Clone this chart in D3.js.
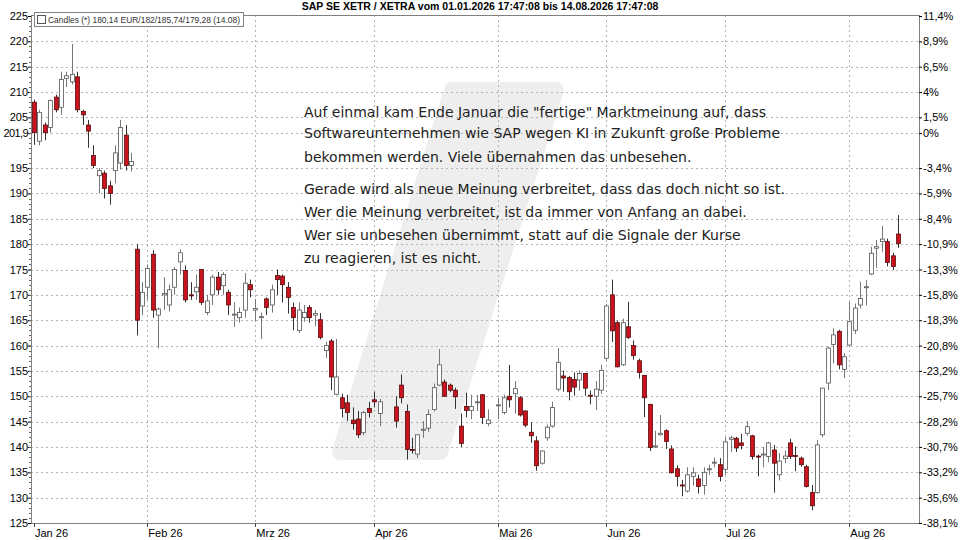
<!DOCTYPE html>
<html>
<head>
<meta charset="utf-8">
<script src="https://d3js.org/d3.v7.min.js"></script>
<style>
  body { margin: 0; background: #fff; }
  svg { display: block; }
</style>
</head>
<body>
<div id="chart"></div>
<script>
// trading days are all weekdays from Jan 2 to Aug 14 except these
const holidays = ["2026-04-03", "2026-04-06", "2026-05-01"];
const firstDay = "2026-01-02", lastDay = "2026-08-14";

const opens = [
  208, 200.3, 203.5, 203, 209, 207, 212.7, 212, 213, 206.2, 203.5, 197.5, 193.5, 194, 191.5, 194.5, 196, 201.5, 195.5, 179, 167.8,
  171.5, 178, 166, 170, 168, 171.5, 176.5, 174.8, 170, 170.6, 175, 166.5, 170, 173.5, 171.8, 170.5, 166, 165.5, 167, 172,
  167, 165.5, 169.2, 168, 173.8, 173.7, 171.5, 167.5, 163, 165.5, 167.5, 166, 165.1, 159, 160.9, 150.4, 149.7, 148.7, 145.3, 145.5, 142.8, 147.6,
  149.3, 146.6, 147.9, 152.2, 147, 139.5, 138.6, 143.3, 143.7, 147.4, 152.2, 152.8, 152.2, 151.2, 144.1, 148, 147.2, 148.7, 150.3, 144.6,
  148.1, 146.8, 150, 150.5, 149.7, 147.1, 142.9, 141.2, 136.8, 141.8, 144.1, 151.4, 154, 153.7, 153.3, 153.2, 154.5, 150.2, 150, 151.2,
  157.5, 170, 164.5, 156.2, 163.7, 160, 157, 154.1, 148.4, 140.1, 142.4, 143.2, 139.6, 135.7, 132.5, 131.3, 134.2, 133.7, 132.4, 135.5, 136.8, 136.5,
  135.6, 141.5, 141.7, 140.8, 142.7, 142.2, 138.2, 138.5, 138.1, 139.4, 134.5, 137.7, 140.8, 138.3, 137.8, 136.1, 131, 131, 142.4, 152.6, 160.2, 162.8, 155.3,
  160.1, 163, 168, 171.4, 174.1, 179.2, 180.5, 180.5, 177.7, 182
];
const highs = [
  208.5, 206.5, 204, 208.5, 209.5, 214, 214, 219.5, 214, 206.5, 204.5, 199.5, 195, 194.5, 192.5, 199.5, 204.5, 203.5, 198, 180, 172.5,
  176, 178.8, 167.5, 173.5, 172, 175.5, 179, 175.8, 172.5, 174, 175, 170, 174, 174.5, 174.5, 171, 168.5, 167.5, 174.3, 173,
  169.2, 166.5, 169.5, 172, 175, 174, 172.5, 168.5, 168.5, 168, 168, 167, 166.4, 160.8, 161.3, 161.3, 150.5, 150.3, 147.8, 147.1, 147.1, 148.9,
  150.9, 149.5, 150, 154.3, 148.4, 141.8, 142.4, 145.1, 147.4, 152.5, 159.3, 153.3, 152.5, 151.7, 146.6, 150.7, 150.3, 150.3, 150.4, 147.4,
  149.7, 150.3, 156.2, 153, 150, 147.2, 144.9, 142.1, 139.3, 144.4, 148.9, 159.5, 155.1, 154, 154.7, 155.1, 154.6, 151.1, 153, 156.2,
  168.2, 173, 164.9, 165.3, 168.6, 161, 157.4, 154.2, 148.5, 143.2, 146.3, 143.5, 140.3, 136.4, 133.5, 136, 136, 134.5, 136, 136.5, 137.9, 137.8,
  141.9, 142.2, 142, 142.6, 145.1, 142.4, 138.5, 140, 141, 140.4, 138.8, 139.3, 141.6, 140.1, 138.1, 136.5, 132.5, 141.4, 151.6, 159.8, 163.4, 163.1, 158.5,
  168.6, 168.3, 172.6, 172.9, 179.5, 180.8, 183.6, 181.1, 178.3, 185.74
];
const lows = [
  199.6, 199.5, 200.5, 202, 206, 205.5, 211, 211.5, 206, 203.5, 199, 195, 190, 189, 187.8, 192, 194.7, 194.5, 194.3, 162, 166,
  169, 165.5, 159.5, 167, 166.7, 170, 174, 168.5, 169, 169, 168, 166, 168, 170, 170, 166, 163.7, 164.5, 165.5, 169.5,
  164.8, 161.3, 166, 166.5, 170, 168.5, 166.3, 163, 162.5, 164.7, 164.5, 163.8, 161.2, 157.5, 151.2, 150.2, 145.8, 145.1, 143.4, 141.8, 142.3, 145.8,
  147.8, 144.1, 143.8, 148.6, 137.5, 138.7, 137.8, 141.8, 143, 147, 152, 149.9, 150.8, 147.5, 140, 145.8, 145.5, 147.1, 144.5, 144.1,
  145.5, 146.4, 147.8, 146.6, 146, 143.9, 140.8, 135.3, 136.5, 141.2, 143.8, 151, 150.9, 149.2, 150.1, 151.1, 150.1, 148.4, 147.3, 150.5,
  157, 160.7, 155.7, 156, 161.3, 157.2, 153.5, 145.9, 139.2, 139.8, 142.3, 139.6, 134.8, 132.2, 130.3, 131, 132.4, 130.8, 130.6, 134.5, 136, 133.2,
  134.5, 139, 139, 139.5, 142.2, 137.5, 134.2, 136, 137, 131, 133.4, 136.8, 137.6, 135.2, 136.1, 132, 127.5, 130.8, 141.9, 151.2, 156.5, 155.3, 153.6,
  159.8, 162.3, 167.3, 167.9, 173.9, 175.3, 178.5, 175.6, 174.9, 179.28
];
const closes = [
  202, 206, 202, 208.3, 206.5, 212.5, 213.2, 213.5, 206.5, 205.5, 202.3, 195.5, 194.5, 191, 190, 198, 203, 195.5, 196.3, 165, 170.5,
  175.2, 167, 167.2, 170.3, 171, 175, 178.3, 169, 169.8, 171.5, 168.5, 168.8, 173.5, 171, 174, 168, 166.2, 166.5, 172.3, 171,
  167.3, 165.7, 167.5, 171, 173, 172, 169.5, 165.5, 167, 166.5, 165.5, 166.3, 161.6, 160, 153.8, 153.8, 147.6, 146.8, 144.6, 142.4, 146.8, 146.8,
  148.9, 148.9, 145.1, 149.7, 139.5, 139.4, 142.4, 143.5, 146.4, 151.7, 156.2, 150, 151.2, 149.9, 140.7, 147.2, 148, 148.9, 145.8, 145.3,
  148.3, 149.7, 149.3, 151.5, 146.3, 144.3, 142.2, 136.3, 139.2, 143.9, 147.8, 156.7, 153.6, 150.9, 151.8, 154.5, 151.6, 150.1, 151.4, 155.1,
  167.8, 162.9, 155.8, 164.5, 161.6, 158, 154.7, 149.7, 139.9, 140.2, 142.7, 141.1, 134.9, 134.2, 132.4, 134.5, 134.9, 132.2, 135, 135.7, 137, 134.2,
  141, 141.8, 139.8, 140.3, 144, 138.1, 138, 138.6, 140.8, 136.8, 137.2, 138.2, 138.1, 138.2, 136.5, 132.2, 128.4, 140.4, 151.6, 159.5, 162.1, 156.2, 157.8,
  164.7, 167.4, 169.3, 171.6, 178.2, 179.5, 181, 176.4, 175.6, 180.14
];

const priceTicks = [225, 220, 215, 210, 205, 201.9, 195, 190, 185, 180, 175, 170, 165, 160, 155, 150, 145, 140, 135, 130, 125];
const priceLabels = ["225", "220", "215", "210", "205", "201,9", "195", "190", "185", "180", "175", "170", "165", "160", "155", "150", "145", "140", "135", "130", "125"];
const pctLabels = ["11,4%", "8,9%", "6,5%", "4%", "1,5%", "0%", "-3,4%", "-5,9%", "-8,4%", "-10,9%", "-13,3%", "-15,8%", "-18,3%",
  "-20,8%", "-23,2%", "-25,7%", "-28,2%", "-30,7%", "-33,2%", "-35,6%", "-38,1%"];
const monthStarts = ["2026-01-02", "2026-02-02", "2026-03-02", "2026-04-01", "2026-05-04", "2026-06-01", "2026-07-01", "2026-08-03"];
const monthLabels = ["Jan 26", "Feb 26", "Mrz 26", "Apr 26", "Mai 26", "Jun 26", "Jul 26", "Aug 26"];

const titleText = "SAP SE XETR / XETRA vom 01.01.2026 17:47:08 bis 14.08.2026 17:47:08";
const legendText = "Candles (*) 180,14 EUR/182/185,74/179,28 (14.08)";
const noteLines = [
  "Auf einmal kam Ende Januar die \"fertige\" Marktmeinung auf, dass",
  "Softwareunternehmen wie SAP wegen KI in Zukunft große Probleme",
  "bekommen werden. Viele übernahmen das unbesehen.",
  "",
  "Gerade wird als neue Meinung verbreitet, dass das doch nicht so ist.",
  "Wer die Meinung verbreitet, ist da immer von Anfang an dabei.",
  "Wer sie unbesehen übernimmt, statt auf die Signale der Kurse",
  "zu reagieren, ist es nicht."
];

// weekday index counted from Jan 2 (holidays keep their slot)
const parse = d3.utcParse("%Y-%m-%d");
const fmtDay = d3.utcFormat("%Y-%m-%d");
const start = parse(firstDay);
const wIdx = d => d3.utcDay.count(start, d) - 2 * d3.utcSaturday.count(start, d);
const days = d3.utcDays(start, d3.utcDay.offset(parse(lastDay), 1))
  .filter(d => d.getUTCDay() !== 0 && d.getUTCDay() !== 6 && !holidays.includes(fmtDay(d)));

const data = days.map((d, i) => ({ idx: wIdx(d), o: opens[i], h: highs[i], l: lows[i], c: closes[i] }));
const idxOf = s => wIdx(parse(s));

const W = 960, H = 540;
const mLeft = 31, mRight = 919, mTop = 15, mBottom = 523;

const svg = d3.select("#chart").append("svg").attr("width", W).attr("height", H)
  .style("font-family", "Arial, 'Liberation Sans', sans-serif");

const x = d3.scaleLinear().domain([-0.55, 163.9]).range([mLeft, mRight]);
const y = d3.scaleLinear().domain([125, 225]).range([mBottom, mTop + 1]);

// watermark
svg.append("path")
  .attr("d", "M340,452 L440,452 L556,90 L452,90 Z")
  .attr("fill", "#eeeeee").attr("stroke", "#eeeeee")
  .attr("stroke-width", 16).attr("stroke-linejoin", "round");

// grid
const grid = svg.append("g").attr("stroke", "#b4b4b4").attr("stroke-dasharray", "2,3").attr("stroke-width", 1);
grid.selectAll(".hg").data(priceTicks.filter(p => p > 125 && p < 225)).enter().append("line")
  .attr("x1", mLeft).attr("x2", mRight)
  .attr("y1", d => Math.round(y(d)) + 0.5).attr("y2", d => Math.round(y(d)) + 0.5);
grid.selectAll(".vg").data(monthStarts.slice(1)).enter().append("line")
  .attr("y1", mTop).attr("y2", mBottom)
  .attr("x1", d => Math.round(x(idxOf(d))) + 0.5).attr("x2", d => Math.round(x(idxOf(d))) + 0.5);

// frame
svg.append("rect").attr("x", mLeft + 0.5).attr("y", mTop + 0.5)
  .attr("width", mRight - mLeft).attr("height", mBottom - mTop)
  .attr("fill", "none").attr("stroke", "#808080");

// axes
const gl = svg.append("g").attr("transform", `translate(${mLeft},0)`)
  .call(d3.axisLeft(y).tickValues(priceTicks).tickSize(3).tickFormat((d, i) => priceLabels[i]));
gl.select(".domain").remove();
gl.selectAll("text").attr("font-size", 11).attr("fill", "#000").attr("x", -3)
  .attr("font-family", "Arial, 'Liberation Sans', sans-serif")
  .attr("letter-spacing", (d, i) => priceLabels[i].length > 3 ? -0.6 : 0);

const gr = svg.append("g").attr("transform", `translate(${mRight},0)`)
  .call(d3.axisRight(y).tickValues(priceTicks).tickSize(3).tickFormat((d, i) => pctLabels[i]));
gr.select(".domain").remove();
gr.selectAll("text").attr("font-size", 11).attr("fill", "#000").attr("x", 4)
  .attr("font-family", "Arial, 'Liberation Sans', sans-serif");

// minor ticks on left axis
svg.append("g").selectAll("line").data(d3.range(126, 225)).enter().append("line")
  .attr("x1", mLeft - 2).attr("x2", mLeft)
  .attr("y1", d => Math.round(y(d)) + 0.5).attr("y2", d => Math.round(y(d)) + 0.5)
  .attr("stroke", "#666");

const gx = svg.append("g");
gx.selectAll("line").data(monthStarts).enter().append("line")
  .attr("x1", d => Math.round(x(idxOf(d))) + 0.5).attr("x2", d => Math.round(x(idxOf(d))) + 0.5)
  .attr("y1", mBottom).attr("y2", mBottom + 4).attr("stroke", "#444");
gx.selectAll("text").data(monthStarts).enter().append("text")
  .attr("x", d => x(idxOf(d)) + 1).attr("y", mBottom + 14)
  .attr("font-size", 11).text((d, i) => monthLabels[i]);

// candles
const cw = 4;
const candles = svg.append("g").selectAll("g").data(data).enter().append("g");
candles.append("line")
  .attr("x1", d => Math.round(x(d.idx)) + 0.5).attr("x2", d => Math.round(x(d.idx)) + 0.5)
  .attr("y1", d => y(d.h)).attr("y2", d => y(d.l))
  .attr("stroke", d => d.c >= d.o ? "#777" : "#333");
candles.append("rect")
  .attr("x", d => Math.round(x(d.idx)) - cw / 2 + 0.5)
  .attr("y", d => y(Math.max(d.o, d.c)))
  .attr("width", cw)
  .attr("height", d => Math.max(1, Math.abs(y(d.o) - y(d.c))))
  .attr("fill", d => d.c >= d.o ? "#fff" : "#c8141e")
  .attr("stroke", d => d.c >= d.o ? "#555" : "#5a0a0a")
  .attr("stroke-width", 0.8);

// title
svg.append("text").attr("x", 480).attr("y", 10).attr("text-anchor", "middle")
  .attr("font-size", 10.5).attr("font-weight", "bold").text(titleText);

// legend
const lg = svg.append("g");
lg.append("rect").attr("x", 34.5).attr("y", 12.5).attr("width", 209).attr("height", 14)
  .attr("fill", "#fff").attr("stroke", "#808080");
lg.append("rect").attr("x", 37.5).attr("y", 15.5).attr("width", 8).attr("height", 8)
  .attr("fill", "#fff").attr("stroke", "#555");
lg.append("text").attr("x", 48).attr("y", 23).attr("font-size", 9.5).attr("fill", "#333")
  .attr("textLength", 192).attr("lengthAdjust", "spacingAndGlyphs").text(legendText);

// note
const yPos = [112, 133, 157, 0, 189, 212, 235, 258];
svg.append("g").selectAll("text").data(noteLines).enter().append("text")
  .attr("x", 304).attr("y", (d, i) => yPos[i] + 5)
  .attr("font-family", "'DejaVu Sans', Verdana, sans-serif")
  .attr("font-size", 14).attr("fill", "#222")
  .text(d => d);
</script>
</body>
</html>
